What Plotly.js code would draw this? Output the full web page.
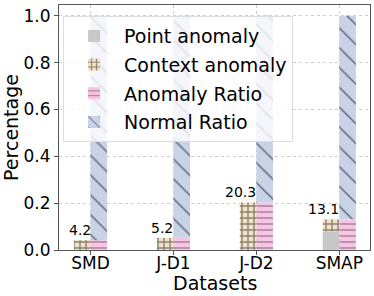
<!DOCTYPE html>
<html>
<head>
<meta charset="utf-8">
<script src="https://cdn.plot.ly/plotly-3.0.1.min.js"></script>
<style>
html,body{margin:0;padding:0;background:#fff;}
#chart{width:374px;height:296px;}
</style>
</head>
<body>
<div id="chart"></div>
<script>
var categories = ["SMD", "J-D1", "J-D2", "SMAP"];
var pointAnomaly = [0.0, 0.0, 0.0, 0.08];
var contextAnomaly = [0.042, 0.052, 0.203, 0.051];
var anomalyRatio = [0.042, 0.052, 0.203, 0.131];
var normalRatio = [0.958, 0.948, 0.797, 0.869];
var labelText = ["4.2", "5.2", "20.3", "13.1"];

var FONT = "DejaVu Sans, Liberation Sans, sans-serif";
var leftTop = pointAnomaly.map(function (p, i) { return p + contextAnomaly[i]; });

var traces = [
  {
    type: "bar", name: "Point anomaly", x: categories, y: pointAnomaly,
    offset: -0.2, width: 0.2, legendgroup: "g1",
    marker: { color: "#c8c8c8", line: { width: 0 } },
    hoverinfo: "skip"
  },
  {
    type: "bar", name: "Context anomaly", x: categories, y: contextAnomaly, base: pointAnomaly,
    offset: -0.2, width: 0.2, legendgroup: "g2",
    marker: {
      color: "#f3e3c6", line: { width: 0 },
      pattern: { shape: "+", size: 6, solidity: 0.42, fgcolor: "#222222", bgcolor: "#f3e3c6", fillmode: "overlay" }
    },
    hoverinfo: "skip"
  },
  {
    type: "bar", name: "Anomaly Ratio", x: categories, y: anomalyRatio,
    offset: 0, width: 0.2, legendgroup: "g3",
    marker: {
      color: "#f5c5e3", line: { width: 0 },
      pattern: { shape: "-", size: 6, solidity: 0.24, fgcolor: "#5a3a4c", bgcolor: "#f5c5e3", fillmode: "overlay" }
    },
    hoverinfo: "skip"
  },
  {
    type: "bar", name: "Normal Ratio", x: categories, y: normalRatio, base: anomalyRatio,
    offset: 0, width: 0.2, legendgroup: "g4",
    marker: {
      color: "#c8d3e8", line: { width: 0 },
      pattern: { shape: "\\", size: 14, solidity: 0.12, fgcolor: "#1a1a25", bgcolor: "#c8d3e8", fillmode: "overlay" }
    },
    hoverinfo: "skip"
  }
];

var annotations = categories.map(function (c, i) {
  return {
    x: c, y: leftTop[i], xref: "x", yref: "y",
    text: labelText[i], showarrow: false,
    xanchor: "right", yanchor: "bottom", xshift: 2, yshift: 0,
    font: { family: FONT, size: 14, color: "#000" }
  };
});
annotations.push({
  x: 0.5, y: 0, xref: "paper", yref: "paper",
  text: "Datasets", showarrow: false,
  xanchor: "center", yanchor: "top", yshift: -20,
  font: { family: FONT, size: 19, color: "#000" }
});

var layout = {
  width: 374, height: 296,
  margin: { l: 59, r: 4, t: 5, b: 46 },
  paper_bgcolor: "#fff", plot_bgcolor: "#fff",
  barmode: "overlay",
  showlegend: true,
  font: { family: FONT, color: "#000" },
  xaxis: {
    type: "category",
    range: [-0.38, 3.37],
    showline: true, mirror: true, linecolor: "#555", linewidth: 1,
    ticks: "outside", ticklen: 4, tickcolor: "#555",
    ticklabelstandoff: -6,
    showgrid: true, gridcolor: "#cfcfcf", griddash: "dot", gridwidth: 1,
    tickfont: { family: FONT, size: 17, color: "#000" },
    automargin: false,
    zeroline: false
  },
  yaxis: {
    range: [0, 1.046],
    tickvals: [0, 0.2, 0.4, 0.6, 0.8, 1.0],
    ticktext: ["0.0", "0.2", "0.4", "0.6", "0.8", "1.0"],
    showline: true, mirror: true, linecolor: "#555", linewidth: 1,
    ticks: "outside", ticklen: 4, tickcolor: "#555",
    showgrid: true, gridcolor: "#cfcfcf", griddash: "dot", gridwidth: 1,
    tickfont: { family: FONT, size: 17, color: "#000" },
    title: { text: "Percentage", font: { family: FONT, size: 19, color: "#000" }, standoff: 6 },
    automargin: false,
    zeroline: false
  },
  legend: {
    x: 0.013, y: 0.955, xanchor: "left", yanchor: "top",
    bgcolor: "rgba(255,255,255,0.8)", bordercolor: "#dddddd", borderwidth: 1,
    font: { family: FONT, size: 19, color: "#000" },
    traceorder: "grouped", tracegroupgap: 1,
    itemwidth: 50
  },
  annotations: annotations
};

Plotly.newPlot("chart", traces, layout, { staticPlot: true, displayModeBar: false });
</script>
</body>
</html>
